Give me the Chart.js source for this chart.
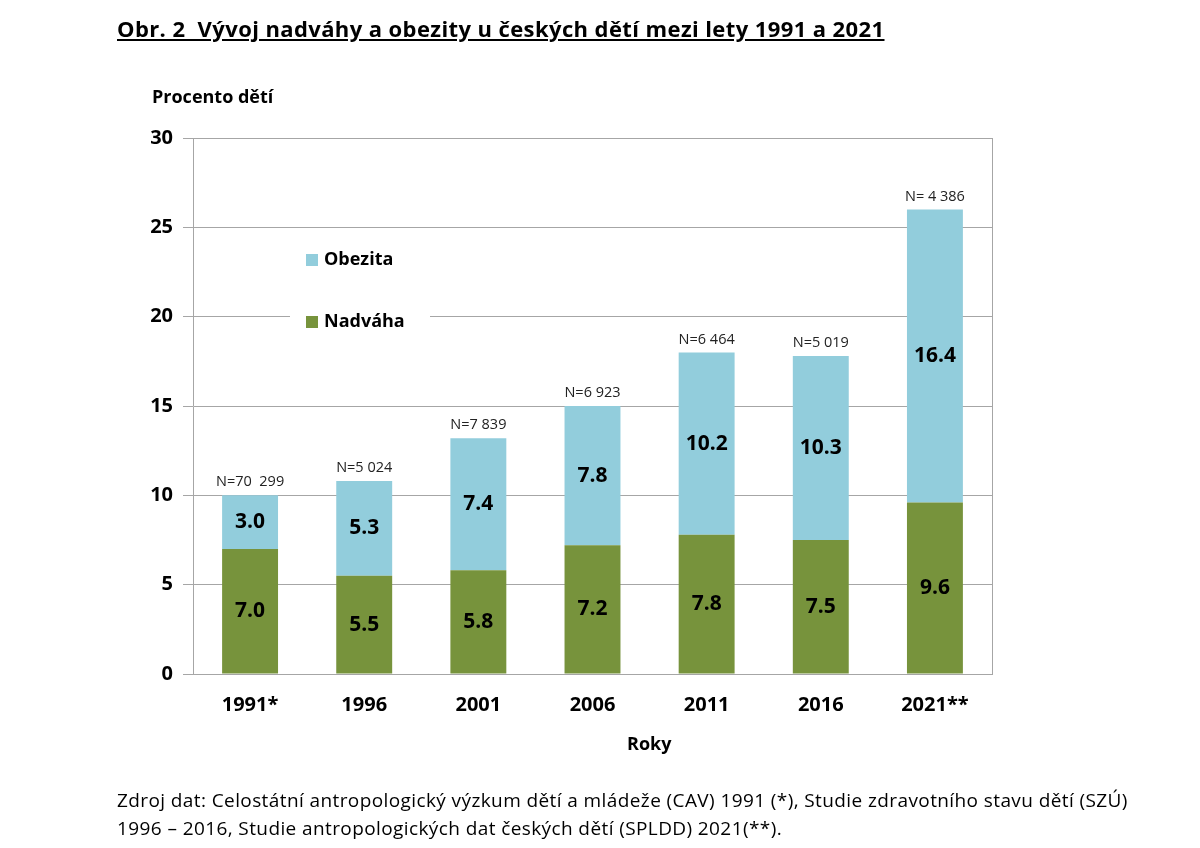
<!DOCTYPE html>
<html lang="cs">
<head>
    <meta charset="UTF-8">
    <script src="https://cdn.jsdelivr.net/npm/chart.js"></script>
    <title>Obr. 2</title>
    <style>
        body { margin: 0; background: #fff; font-family: 'Open Sans', sans-serif; color: #000; }
        #wrap { position: relative; width: 1200px; height: 848px; overflow: hidden; }
        #graf { position: absolute; left: 0; top: 0; }
        .txt { position: absolute; white-space: nowrap; }
        .nadpis { left: 117px; top: 13px; font-size: 22px; letter-spacing: 0.4px; font-weight: bold; text-decoration: underline; }
        .osay { left: 152px; top: 84px; font-size: 18px; font-weight: bold; }
        .osax { left: 627px; top: 731px; font-size: 18px; font-weight: bold; }
        .zdroj { left: 117px; top: 786px; font-size: 19px; letter-spacing: 0.4px; line-height: 28px; }
    </style>
</head>
<body>
<div id="wrap">
    <canvas id="graf" width="1200" height="848"></canvas>
    <div class="txt nadpis">Obr. 2&nbsp; Vývoj nadváhy a obezity u českých dětí mezi lety 1991 a 2021</div>
    <div class="txt osay">Procento dětí</div>
    <div class="txt osax">Roky</div>
    <div class="txt zdroj">Zdroj dat: Celostátní antropologický výzkum dětí a mládeže (CAV) 1991 (*), Studie zdravotního stavu dětí (SZÚ)<br>1996 – 2016, Studie antropologických dat českých dětí (SPLDD) 2021(**).</div>
</div>

<script>
    // data z grafu
    var roky = ['1991*', '1996', '2001', '2006', '2011', '2016', '2021**'];
    var nadvaha = [7.0, 5.5, 5.8, 7.2, 7.8, 7.5, 9.6];
    var obezita = [3.0, 5.3, 7.4, 7.8, 10.2, 10.3, 16.4];
    var pocty = ['N=70  299', 'N=5 024', 'N=7 839', 'N=6 923', 'N=6 464', 'N=5 019', 'N= 4 386'];

    var zelena = '#77933C';
    var modra = '#92CDDC';
    var seda = '#A6A6A6';
    var pismo = 'Open Sans';

    // popisky hodnot v sloupcich a N nad sloupci
    var popisky = {
        id: 'popisky',
        afterDatasetsDraw: function(chart) {
            var ctx = chart.ctx;
            ctx.save();
            ctx.textAlign = 'center';
            ctx.textBaseline = 'middle';
            ctx.fillStyle = '#000';
            ctx.font = 'bold 21px ' + pismo;
            chart.data.datasets.forEach(function(ds, i) {
                chart.getDatasetMeta(i).data.forEach(function(bar, j) {
                    ctx.fillText(ds.data[j].toFixed(1), bar.x, (bar.y + bar.base) / 2);
                });
            });
            ctx.font = '14.5px ' + pismo;
            ctx.fillStyle = '#222';
            chart.getDatasetMeta(1).data.forEach(function(bar, j) {
                ctx.fillText(pocty[j], bar.x, bar.y - 13);
            });
            // pravy okraj plochy
            var a = chart.chartArea;
            ctx.strokeStyle = seda;
            ctx.lineWidth = 1;
            ctx.beginPath();
            ctx.moveTo(a.right + 0.5, a.top);
            ctx.lineTo(a.right + 0.5, a.bottom);
            ctx.stroke();

            // legenda uvnitr grafu
            ctx.fillStyle = '#fff';
            ctx.fillRect(290, 240, 140, 100);
            var polozky = [[chart.data.datasets[1].label, modra, 260], [chart.data.datasets[0].label, zelena, 322]];
            ctx.textAlign = 'left';
            ctx.font = 'bold 18px ' + pismo;
            polozky.forEach(function(p) {
                ctx.fillStyle = p[1];
                ctx.fillRect(306, p[2] - 6, 12, 12);
                ctx.fillStyle = '#000';
                ctx.fillText(p[0], 324, p[2]);
            });
            ctx.restore();
        }
    };

    var ctx = document.getElementById('graf').getContext('2d');
    var graf = new Chart(ctx, {
        type: 'bar',
        data: {
            labels: roky,
            datasets: [{
                label: 'Nadváha',
                data: nadvaha,
                backgroundColor: zelena
            }, {
                label: 'Obezita',
                data: obezita,
                backgroundColor: modra
            }]
        },
        options: {
            responsive: false,
            animation: false,
            categoryPercentage: 1,
            barPercentage: 0.49,
            layout: { padding: { top: 138, right: 208, left: 0, bottom: 0 } },
            plugins: {
                legend: { display: false },
                tooltip: { enabled: false }
            },
            scales: {
                x: {
                    stacked: true,
                    grid: { display: false },
                    border: { display: true, color: seda },
                    ticks: { color: '#000', font: { family: pismo, size: 20, weight: 'bold' }, padding: 11 },
                    afterFit: function(s) { s.height = 174; }
                },
                y: {
                    stacked: true,
                    min: 0,
                    max: 30,
                    ticks: { stepSize: 5, color: '#000', font: { family: pismo, size: 20, weight: 'bold' }, padding: 10 },
                    grid: { color: seda, tickLength: 10 },
                    border: { color: seda },
                    afterFit: function(s) { s.width = 193; }
                }
            }
        },
        plugins: [popisky]
    });
</script>
</body>
</html>
